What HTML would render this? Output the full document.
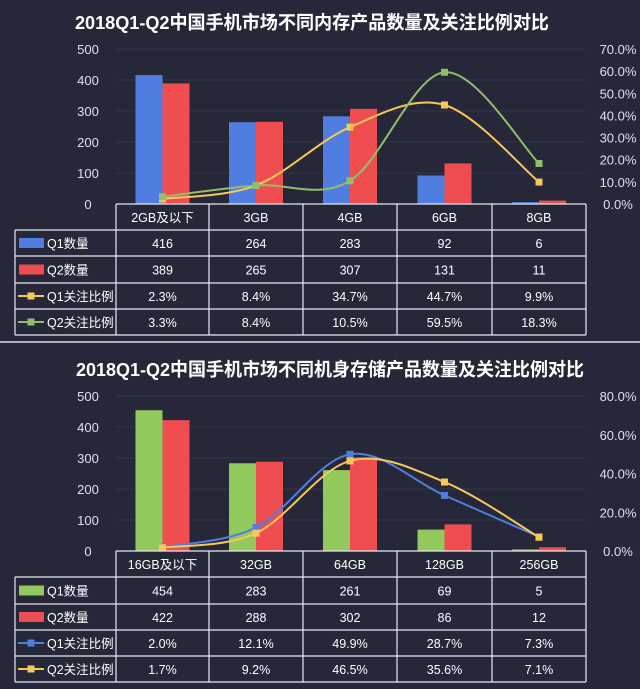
<!DOCTYPE html>
<html><head><meta charset="utf-8">
<style>
html,body{margin:0;padding:0;background:#262738;}
body{width:640px;height:689px;overflow:hidden;font-family:"Liberation Sans","Noto Sans CJK SC",sans-serif;}
</style></head>
<body>
<svg id="s" width="640" height="689" xmlns="http://www.w3.org/2000/svg" style="display:block">
<rect width="640" height="689" fill="#262738"/>
<line x1="0" y1="342" x2="640" y2="342" stroke="#d8d8e0" stroke-width="1.5"/>
<g id="g"></g>
</svg>
<script>
var g=document.getElementById('g');var h='';
function T(x,y,t,o){o=o||{};h+='<text x="'+x+'" y="'+y+'" fill="'+(o.c||'#fff')+'" font-size="'+(o.s||12)+'" text-anchor="'+(o.a||'middle')+'"'+(o.b?' font-weight="bold"':'')+(o.w?' textLength="'+o.w+'" lengthAdjust="spacingAndGlyphs"':'')+'>'+t+'</text>';}
function L(x1,y1,x2,y2,c,w){h+='<line x1="'+x1+'" y1="'+y1+'" x2="'+x2+'" y2="'+y2+'" stroke="'+c+'" stroke-width="'+(w||1)+'"/>';}
function R(x,y,w,hh,c){h+='<rect x="'+x+'" y="'+y+'" width="'+w+'" height="'+hh+'" fill="'+c+'"/>';}
function curve(pts,c){var d='M'+pts[0][0]+','+pts[0][1];for(var i=0;i<pts.length-1;i++){var p0=pts[i-1]||pts[i],p1=pts[i],p2=pts[i+1],p3=pts[i+2]||p2;d+=' C'+(p1[0]+(p2[0]-p0[0])/6)+','+(p1[1]+(p2[1]-p0[1])/6)+' '+(p2[0]-(p3[0]-p1[0])/6)+','+(p2[1]-(p3[1]-p1[1])/6)+' '+p2[0]+','+p2[1];}
h+='<path d="'+d+'" fill="none" stroke="'+c+'" stroke-width="2"/>';pts.forEach(function(p){R(p[0]-3.5,p[1]-3.5,7,7,c);});}
var cols=[116,209,303,397,492,586];var cx=[];for(var i=0;i<5;i++)cx.push((cols[i]+cols[i+1])/2);
function chart(o){
 var base=o.base,top=base-155;
 T(o.tx,o.ty,o.title,{s:18.5,b:1,w:o.tw});
 for(var k=0;k<=5;k++){var y=base-k*31;if(k>0)L(116,y,586,y,'#34364a',1);T(88,y+5,String(k*100),{s:13,c:'#e0e0e8',a:'middle'});}
 for(var k=0;k<o.rl.length;k++){var y=base-k*155/(o.rl.length-1);T(618,y+5,o.rl[k],{s:13,c:'#e0e0e8'});}
 for(var i=0;i<5;i++){var a=o.q1[i]*0.31,b=o.q2[i]*0.31;R(cx[i]-27,base-a,27,a,o.c1);R(cx[i],base-b,27,b,'#ef4d4f');}
 var m=o.max;
 curve(o.p1.map(function(v,i){return[cx[i],base-v/m*155]}),o.lc1);
 curve(o.p2.map(function(v,i){return[cx[i],base-v/m*155]}),o.lc2);
 var rows=o.rows;
 var W='#e8e8f0';
 L(116,rows[0],586,rows[0],W,1.2);
 for(var r=1;r<rows.length;r++)L(15,rows[r],586,rows[r],W,1.2);
 L(15,rows[1],15,rows[5],W,1.2);
 L(116,rows[0],116,rows[5],W,1.2);
 for(var i=1;i<6;i++)L(cols[i],rows[0],cols[i],rows[5],W,1.2);
 for(var i=0;i<5;i++){T(cx[i],rows[0]+18,o.cats[i],{s:12.5});}
 var data=[o.q1,o.q2,o.p1.map(function(v){return v.toFixed(1)+'%'}),o.p2.map(function(v){return v.toFixed(1)+'%'})];
 var labels=['Q1数量','Q2数量','Q1关注比例','Q2关注比例'];var lc=[o.c1,'#ef4d4f',o.lc1,o.lc2];
 for(var r=0;r<4;r++){var yc=(rows[r+1]+rows[r+2])/2;
  if(r<2)R(19,yc-5,25,10,lc[r]);else{L(18,yc,44,yc,lc[r],2);R(27.5,yc-3.5,7,7,lc[r]);}
  T(47,yc+5,labels[r],{s:12.5,a:'start'});
  for(var i=0;i<5;i++)T(cx[i],yc+5,data[r][i],{s:12.5});}
}
chart({base:204,tx:312,tw:474,ty:29,title:'2018Q1-Q2中国手机市场不同内存产品数量及关注比例对比',rl:['0.0%','10.0%','20.0%','30.0%','40.0%','50.0%','60.0%','70.0%'],max:70,
 q1:[416,264,283,92,6],q2:[389,265,307,131,11],p1:[2.3,8.4,34.7,44.7,9.9],p2:[3.3,8.4,10.5,59.5,18.3],c1:'#4f7ee0',lc1:'#f6c85a',lc2:'#8fbf6a',
 cats:['2GB及以下','3GB','4GB','6GB','8GB'],rows:[204,230,256,283,309,335]});
chart({base:551,tx:330,tw:508,ty:376,title:'2018Q1-Q2中国手机市场不同机身存储产品数量及关注比例对比',rl:['0.0%','20.0%','40.0%','60.0%','80.0%'],max:80,
 q1:[454,283,261,69,5],q2:[422,288,302,86,12],p1:[2.0,12.1,49.9,28.7,7.3],p2:[1.7,9.2,46.5,35.6,7.1],c1:'#92c95c',lc1:'#4f7ee0',lc2:'#f6c85a',
 cats:['16GB及以下','32GB','64GB','128GB','256GB'],rows:[551,577,604,630,656,682]});
g.innerHTML=h;
</script>
</body></html>
